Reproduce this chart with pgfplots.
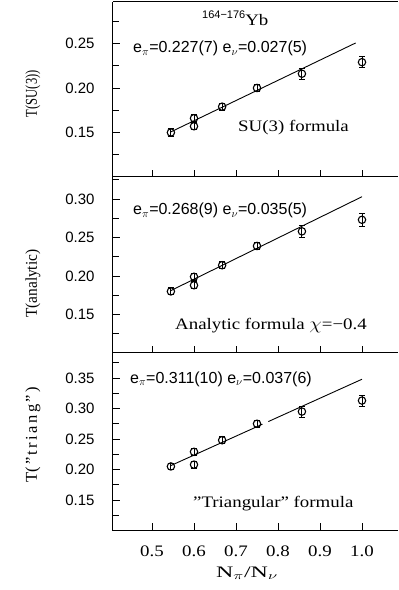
\documentclass[border=0pt]{standalone}
\usepackage{fontspec}
\setmainfont{Liberation Serif}
\setsansfont{Liberation Sans}
\usepackage{graphicx}
\usepackage{pgfplots}
\pgfplotsset{compat=1.18}
\newcommand\W[1]{\scalebox{1.18}[1]{#1}}
\newcommand\sfs{\sffamily\fontsize{15}{16}\selectfont}
\newcommand\sfe{\sffamily\fontsize{16}{17}\selectfont}
\newcommand\rms{\rmfamily\fontsize{16}{17}\selectfont}
\newcommand\rml{\rmfamily\fontsize{16.5}{17}\selectfont}
\newcommand\lsp{\hspace{2.4pt}}
\pgfplotsset{
  panel/.style={
    scale only axis, width=285pt, xmin=0.40714, xmax=1.08571,
    axis lines*=left,
    xtick={0.5,0.6,0.7,0.8,0.9,1.0}, xtick pos=bottom, ytick pos=left,
    tick align=inside, major tick length=7pt, minor tick length=6pt,
    axis line style={line width=1pt, black, -},
    tick style={line width=0.9pt, black},
    /pgf/number format/assume math mode=true,
    yticklabel style={font=\sfs, /pgf/number format/fixed, /pgf/number format/fixed zerofill, /pgf/number format/precision=2, xshift=-15pt},
    clip=false,
    anchor=south west,
  },
  dat/.style={only marks, mark=o, mark size=3.7pt, mark options={line width=1.1pt, black}, black,
    error bars/.cd, y dir=both, y explicit, error bar style={line width=0.9pt, black},
    error mark options={rotate=90, mark size=3pt, line width=0.9pt, black}},
  fit/.style={black, no marks, line width=0.9pt},
}
\begin{document}
\begin{tikzpicture}
\path (0pt,0pt) rectangle (398pt,590pt);
% ---------------- top panel
\begin{axis}[panel, at={(113pt,413pt)}, height=175pt, ymin=0.10, ymax=0.2966,
  xticklabels={},
  ytick={0.15,0.20,0.25}, minor ytick={0.125,0.175,0.225,0.275}]
\draw[line width=1pt] (rel axis cs:0,1) -- (rel axis cs:1,1);
\addplot[fit] coordinates {(0.545,0.1507) (0.985,0.2506)};
\addplot[dat] coordinates {
 (0.545,0.150) +- (0,0.004)
 (0.6,0.166) +- (0,0.004)
 (0.6,0.157) +- (0,0.004)
 (0.667,0.179) +- (0,0.004)
 (0.75,0.200) +- (0,0.004)
 (0.857,0.216) +- (0,0.0065)
 (1.0,0.229) +- (0,0.006)};
\node[anchor=base west, inner sep=0pt] at (axis cs:0.619,0.270) {\raisebox{7pt}{\sffamily\fontsize{11}{11}\selectfont 164−176}\rms\W{Yb}};
\node[anchor=base west, inner sep=0pt, font=\sfe] at (axis cs:0.4548,0.2399) {e$_\pi$=0.227(7) e$_\nu$=0.027(5)};
\node[anchor=base west, inner sep=0pt, font=\rms] at (axis cs:0.7048,0.1515) {\W{SU(3) formula}};
\node[rotate=90, anchor=base, font=\rml] at (rel axis cs:-0.2667,0.476) {\scalebox{0.76}[1]{T(SU(3))}};
\end{axis}
% ---------------- middle panel
\begin{axis}[panel, at={(113pt,237pt)}, height=176pt, ymin=0.10, ymax=0.3286,
  xticklabels={},
  ytick={0.15,0.20,0.25,0.30}, minor ytick={0.125,0.175,0.225,0.275,0.325}]
\addplot[fit] coordinates {(0.545,0.1811) (1.0,0.303)};
\addplot[dat] coordinates {
 (0.545,0.180) +- (0,0.0045)
 (0.6,0.199) +- (0,0.0045)
 (0.6,0.188) +- (0,0.0045)
 (0.667,0.214) +- (0,0.0045)
 (0.75,0.239) +- (0,0.0045)
 (0.857,0.258) +- (0,0.0075)
 (1.0,0.273) +- (0,0.008)};
\node[anchor=base west, inner sep=0pt, font=\sfe] at (axis cs:0.4548,0.2799) {e$_\pi$=0.268(9) e$_\nu$=0.035(5)};
\node[anchor=base west, inner sep=0pt, font=\rms] at (axis cs:0.5548,0.1305) {\W{Analytic formula $\chi$=−0.4}};
\node[rotate=90, anchor=base, font=\rml] at (rel axis cs:-0.2667,0.394) {\scalebox{0.93}[1]{T(analytic)}};
\end{axis}
% ---------------- bottom panel
\begin{axis}[panel, at={(113pt,59.5pt)}, height=177.5pt, ymin=0.10, ymax=0.391,
  xticklabels={\W{0.5},\W{0.6},\W{0.7},\W{0.8},\W{0.9},\W{1.0}},
  xticklabel style={font=\rms, yshift=-12pt},
  ytick={0.15,0.20,0.25,0.30,0.35}, minor ytick={0.125,0.175,0.225,0.275,0.325,0.375}]
\addplot[fit] coordinates {(0.545,0.2065) (0.763,0.2743)};
\addplot[fit] coordinates {(0.777,0.2786) (1.0,0.348)};
\addplot[dat] coordinates {
 (0.545,0.205) +- (0,0.0057)
 (0.6,0.229) +- (0,0.0057)
 (0.6,0.208) +- (0,0.0057)
 (0.667,0.248) +- (0,0.0057)
 (0.75,0.275) +- (0,0.0057)
 (0.857,0.295) +- (0,0.009)
 (1.0,0.313) +- (0,0.009)};
\node[anchor=base west, inner sep=0pt, font=\sfe] at (axis cs:0.4476,0.3418) {e$_\pi$=0.311(10) e$_\nu$=0.037(6)};
\node[anchor=base west, inner sep=0pt, font=\rms] at (axis cs:0.5976,0.1385) {\W{''Triangular'' formula}};
\node[rotate=90, anchor=base, font=\rml] at (rel axis cs:-0.2667,0.538) {T(\lsp''\lsp t\lsp r\lsp i\lsp a\lsp n\lsp g\lsp''\lsp)};
\node[anchor=base, font=\rms] at (rel axis cs:0.4702,-0.262) {\scalebox{1.5}[1]{N$_\pi$/N$_\nu$}};
\end{axis}
\end{tikzpicture}
\end{document}
